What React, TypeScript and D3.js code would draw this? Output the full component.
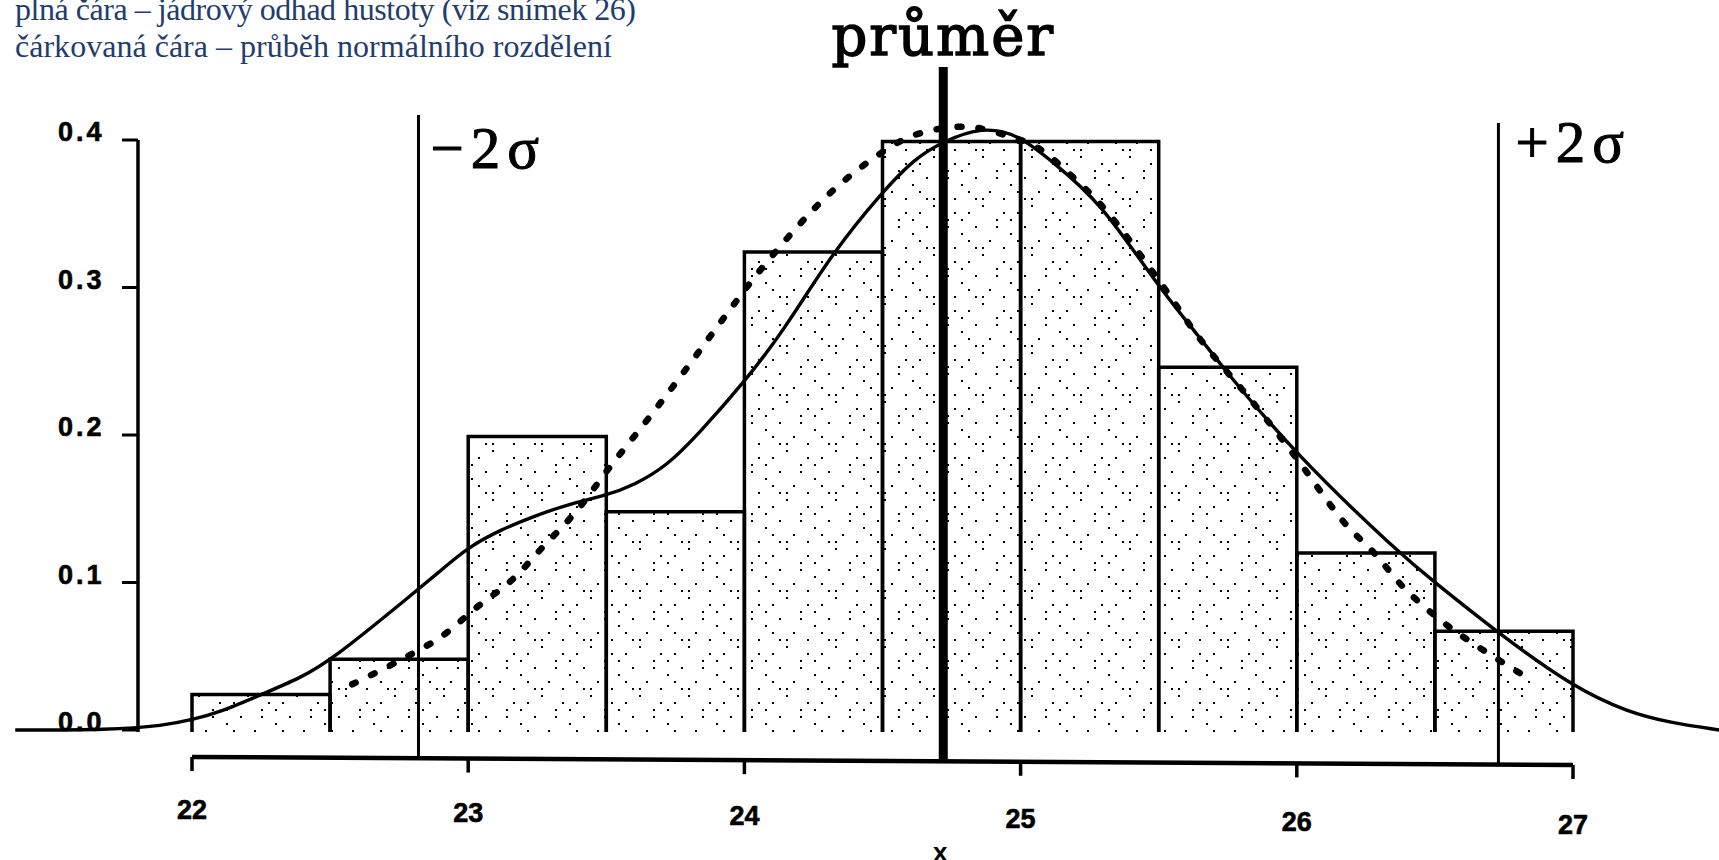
import React from 'react';
import * as d3 from 'd3';

// ---- data ----
const binStarts = [22, 22.5, 23, 23.5, 24, 24.5, 25, 25.5, 26, 26.5];
const binWidth = 0.5;
const binHeights = [0.024, 0.048, 0.199, 0.148, 0.324, 0.399, 0.399, 0.246, 0.12, 0.067];

// solid line – kernel density estimate
const kernelX = [21.36, 21.7, 21.9, 22.0, 22.1, 22.25, 22.39, 22.51, 22.81, 22.9, 23.0, 23.12, 23.24, 23.36, 23.5, 23.6, 23.72, 23.84, 24.0, 24.14, 24.32, 24.5, 24.62, 24.72, 24.86, 24.99, 25.11, 25.29, 25.5, 25.65, 25.73, 26.0, 26.37, 26.5, 26.72, 27.0, 27.2, 27.35, 27.53];
const kernelY = [0.0, 0.0, 0.003, 0.007, 0.012, 0.024, 0.035, 0.048, 0.094, 0.108, 0.124, 0.136, 0.145, 0.153, 0.159, 0.166, 0.179, 0.202, 0.236, 0.27, 0.324, 0.365, 0.388, 0.399, 0.409, 0.404, 0.386, 0.358, 0.3, 0.266, 0.246, 0.186, 0.12, 0.1, 0.067, 0.029, 0.012, 0.005, 0.0];

// dotted line – normal distribution
const normalX = [22.58, 22.74, 22.9, 23.03, 23.16, 23.27, 23.39, 23.52, 23.66, 23.79, 23.92, 24.05, 24.23, 24.34, 24.47, 24.61, 24.8, 24.95, 25.06, 25.2, 25.31, 25.5, 25.65, 25.85, 26.0, 26.17, 26.28, 26.39, 26.53, 26.66, 26.83];
const normalY = [0.031, 0.046, 0.063, 0.083, 0.102, 0.124, 0.148, 0.18, 0.213, 0.245, 0.278, 0.31, 0.349, 0.369, 0.388, 0.403, 0.409, 0.403, 0.395, 0.373, 0.352, 0.305, 0.265, 0.22, 0.184, 0.141, 0.12, 0.096, 0.073, 0.056, 0.036];

const yTicks = [0, 0.1, 0.2, 0.3, 0.4];
const xTicks = [22, 23, 24, 25, 26, 27];
const meanValue = 24.72;
const sigmaValues = [22.82, 26.73];
const sigmaLabels = ['\u22122\u03c3', '+2\u03c3'];
const meanLabel = 'průměr';
const xLabel = 'x';
const legendLines = [
  'plná čára – jádrový odhad hustoty (viz snímek 26)',
  'čárkovaná čára – průběh normálního rozdělení',
];

// stipple cells (col,row) inside a 7x7 grid
const stippleCells = [[0, 0], [0, 1], [3, 0], [5, 2], [2, 3], [2, 4], [6, 4], [4, 5], [1, 6], [5, 6], [3, 2], [6, 0], [4, 3]];

export default function App() {
  const W = 1719, H = 860;
  const x = d3.scaleLinear().domain([22, 27]).range([192, 1573]);
  const y = d3.scaleLinear().domain([0, 0.4]).range([730, 140]);
  const axisLeftX = 138;
  const axisY = (v: number) => 757 + (v - 22) * 1.6;
  const labelY = (v: number) => 819 + (v - 22) * 3.0;

  const smooth = d3
    .line<[number, number]>()
    .x((d) => x(d[0]))
    .y((d) => y(d[1]))
    .curve(d3.curveBasis);
  const through = d3
    .line<[number, number]>()
    .x((d) => x(d[0]))
    .y((d) => y(d[1]))
    .curve(d3.curveCatmullRom.alpha(0.5));

  const kernel = kernelX.map((v, i) => [v, kernelY[i]] as [number, number]);
  const normal = normalX.map((v, i) => [v, normalY[i]] as [number, number]);

  const bars = binStarts.map((s, i) => {
    const x0 = x(s), x1 = x(s + binWidth), yt = y(binHeights[i]), yb = y(0) + 2;
    return { x0, x1, yt, yb };
  });

  const sigmaTops = [115, 123];
  const sigmaLabelPos = [
    { dx: 12, y: 168 },
    { dx: 17, y: 162 },
  ];
  const legendLengths = [621, 597];

  return (
    <svg
      width={W}
      height={H}
      viewBox={`0 0 ${W} ${H}`}
      style={{ position: 'absolute', left: 0, top: 0, background: '#fff' }}
    >
      <defs>
        <pattern id="stip" width={49} height={49} patternUnits="userSpaceOnUse">
          {stippleCells.map(([c, r], i) => (
            <rect key={i} x={c * 7 + 2} y={r * 7 + 2} width={2} height={2} fill="#000" />
          ))}
        </pattern>
      </defs>
      <rect x={0} y={0} width={W} height={H} fill="#fff" />

      {/* legend text */}
      {legendLines.map((t, i) => (
        <text
          key={i}
          x={15}
          y={20 + i * 37}
          textLength={legendLengths[i]}
          lengthAdjust="spacing"
          fontFamily="'Liberation Serif', 'Times New Roman', serif"
          fontSize={32}
          fill="#1f3d6e"
        >
          {t}
        </text>
      ))}

      {/* histogram */}
      {bars.map((b, i) => (
        <g key={i}>
          <rect x={b.x0} y={b.yt} width={b.x1 - b.x0} height={b.yb - b.yt} fill="url(#stip)" />
          <path
            d={`M${b.x0},${b.yb}L${b.x0},${b.yt}L${b.x1},${b.yt}L${b.x1},${b.yb}`}
            fill="none"
            stroke="#000"
            strokeWidth={3.5}
          />
        </g>
      ))}

      {/* curves */}
      <path d={smooth(kernel) || ''} fill="none" stroke="#000" strokeWidth={3.4} />
      <path
        d={through(normal) || ''}
        fill="none"
        stroke="#000"
        strokeWidth={6.5}
        strokeDasharray="4 17"
        strokeLinecap="round"
      />

      {/* sigma lines */}
      {sigmaValues.map((v, i) => (
        <g key={i}>
          <line x1={x(v)} x2={x(v)} y1={sigmaTops[i]} y2={axisY(v)} stroke="#000" strokeWidth={3} />
          <text
            x={x(v) + sigmaLabelPos[i].dx}
            y={sigmaLabelPos[i].y}
            fontFamily="'Liberation Serif', 'Times New Roman', serif"
            fontSize={59}
            letterSpacing={7}
            stroke="#000"
            strokeWidth={1}
            fill="#000"
          >
            {sigmaLabels[i]}
          </text>
        </g>
      ))}

      {/* mean line */}
      <line x1={x(meanValue)} x2={x(meanValue)} y1={67} y2={axisY(meanValue)} stroke="#000" strokeWidth={9} />
      <text
        x={x(meanValue)}
        y={55}
        textAnchor="middle"
        fontFamily="'DejaVu Serif', serif"
        fontSize={56}
        letterSpacing={2}
        stroke="#000"
        strokeWidth={1.5}
        fill="#000"
      >
        {meanLabel}
      </text>

      {/* y axis */}
      <line x1={axisLeftX} x2={axisLeftX} y1={y(0.4)} y2={y(0) + 2} stroke="#000" strokeWidth={3.5} />
      {yTicks.map((t) => (
        <g key={t}>
          <line x1={axisLeftX - 16} x2={axisLeftX} y1={y(t)} y2={y(t)} stroke="#000" strokeWidth={3} />
          <text
            x={58}
            y={y(t) + 1}
            fontFamily="'Liberation Sans', Arial, sans-serif"
            fontWeight="bold"
            fontSize={27}
            letterSpacing={3}
            stroke="#000"
            strokeWidth={0.6}
            fill="#000"
          >
            {d3.format('.1f')(t)}
          </text>
        </g>
      ))}

      {/* x axis */}
      <line x1={x(22)} x2={x(27)} y1={axisY(22)} y2={axisY(27)} stroke="#000" strokeWidth={4.5} />
      {xTicks.map((t) => (
        <g key={t}>
          <line x1={x(t)} x2={x(t)} y1={axisY(t)} y2={axisY(t) + 14} stroke="#000" strokeWidth={3.5} />
          <text
            x={x(t)}
            y={labelY(t)}
            textAnchor="middle"
            fontFamily="'Liberation Sans', Arial, sans-serif"
            fontWeight="bold"
            fontSize={27}
            stroke="#000"
            strokeWidth={0.6}
            fill="#000"
          >
            {t}
          </text>
        </g>
      ))}
      <text
        x={x(meanValue) - 3}
        y={861}
        textAnchor="middle"
        fontFamily="'Liberation Sans', Arial, sans-serif"
        fontWeight="bold"
        fontSize={26}
        fill="#000"
      >
        {xLabel}
      </text>
    </svg>
  );
}
